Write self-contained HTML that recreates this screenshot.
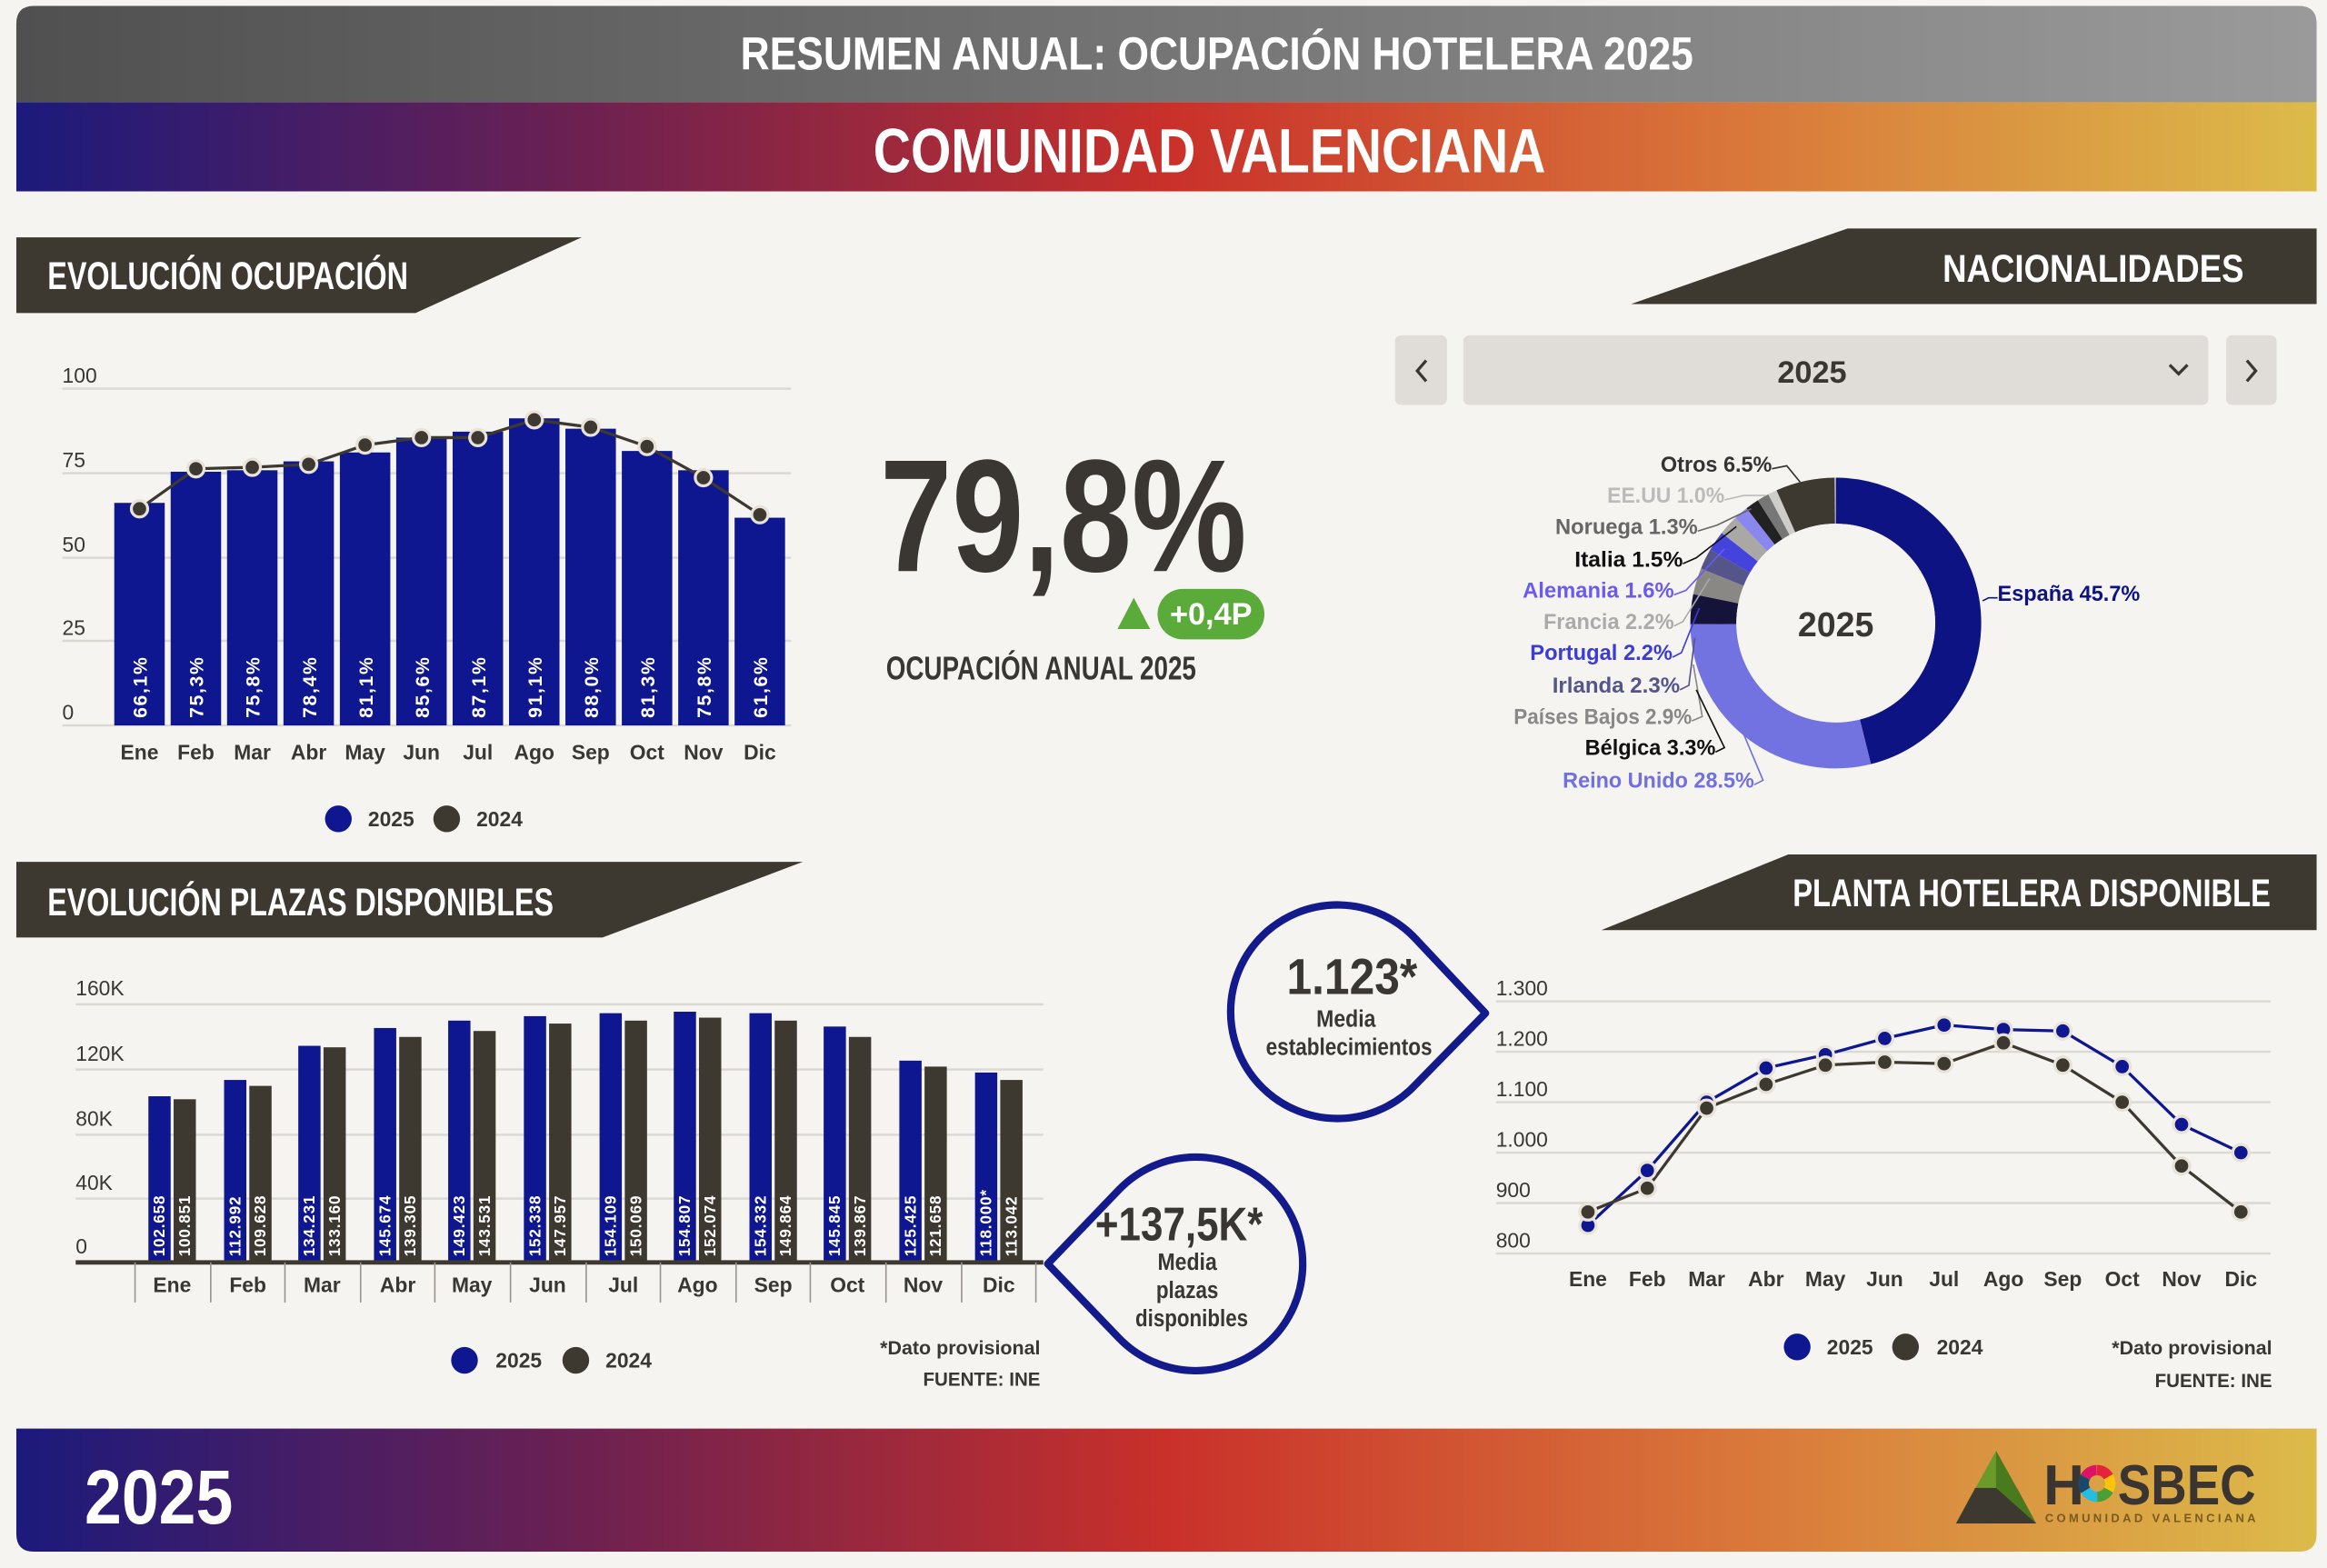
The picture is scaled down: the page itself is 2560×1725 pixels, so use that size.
<!DOCTYPE html>
<html><head><meta charset="utf-8">
<style>
html,body{margin:0;padding:0;background:#f6f4f0;}
svg{display:block;}
text{font-family:"Liberation Sans Narrow","Liberation Sans",sans-serif;font-weight:bold;}
</style></head>
<body>
<svg width="2560" height="1725" viewBox="0 0 1568 1057" preserveAspectRatio="none" xmlns="http://www.w3.org/2000/svg">
<defs>
<linearGradient id="gray" x1="0" x2="1" y1="0" y2="0"><stop offset="0" stop-color="#505050"/><stop offset="1" stop-color="#9a9a9a"/></linearGradient>
<linearGradient id="warm" x1="0" x2="1" y1="0" y2="0"><stop offset="0" stop-color="#1c1a7c"/><stop offset="0.25" stop-color="#6e2150"/><stop offset="0.5" stop-color="#c9302a"/><stop offset="0.75" stop-color="#d9773a"/><stop offset="1" stop-color="#dcbb4a"/></linearGradient>
</defs>
<rect width="1568" height="1057" fill="#f6f4f0"/>
<!-- header -->
<path d="M11,69 V16 Q11,4 23,4 H1549 Q1561,4 1561,16 V69 Z" fill="url(#gray)"/>
<text x="820" y="47" font-size="31" fill="#fff" text-anchor="middle" textLength="642" lengthAdjust="spacingAndGlyphs">RESUMEN ANUAL: OCUPACIÓN HOTELERA 2025</text>
<rect x="11" y="69" width="1550" height="60" fill="url(#warm)"/>
<text x="815" y="116" font-size="42" fill="#fff" text-anchor="middle" textLength="453" lengthAdjust="spacingAndGlyphs">COMUNIDAD VALENCIANA</text>

<!-- section headers -->
<polygon points="11,160 392,160 280,211 11,211" fill="#3d3830"/>
<text x="32" y="195" font-size="26" fill="#fff" textLength="243" lengthAdjust="spacingAndGlyphs">EVOLUCIÓN OCUPACIÓN</text>
<polygon points="1245,154 1561,154 1561,205 1099,205" fill="#3d3830"/>
<text x="1309" y="190" font-size="26" fill="#fff" textLength="203" lengthAdjust="spacingAndGlyphs">NACIONALIDADES</text>
<polygon points="11,581 541,581 406,632 11,632" fill="#3d3830"/>
<text x="32" y="617" font-size="26" fill="#fff" textLength="341" lengthAdjust="spacingAndGlyphs">EVOLUCIÓN PLAZAS DISPONIBLES</text>
<polygon points="1205,576 1561,576 1561,627 1079,627" fill="#3d3830"/>
<text x="1530" y="611" font-size="26" fill="#fff" text-anchor="end" textLength="322" lengthAdjust="spacingAndGlyphs">PLANTA HOTELERA DISPONIBLE</text>

<!-- chart 1 -->
<g stroke="#dcd8d2" stroke-width="1.5">
<line x1="42" x2="533" y1="262" y2="262"/><line x1="42" x2="533" y1="319" y2="319"/><line x1="42" x2="533" y1="376" y2="376"/><line x1="42" x2="533" y1="432" y2="432"/><line x1="42" x2="533" y1="489" y2="489"/>
</g>
<g font-size="14" fill="#3a3733">
<text x="42" y="258" style="font-weight:normal">100</text><text x="42" y="315" style="font-weight:normal">75</text><text x="42" y="372" style="font-weight:normal">50</text><text x="42" y="428" style="font-weight:normal">25</text><text x="42" y="485" style="font-weight:normal">0</text>
</g>
<g fill="#0e1790">
<rect x="77" y="339" width="34" height="150"/><rect x="115" y="318" width="34" height="171"/><rect x="153" y="317" width="34" height="172"/><rect x="191" y="311" width="34" height="178"/><rect x="229" y="305" width="34" height="184"/><rect x="267" y="295" width="34" height="194"/><rect x="305" y="291" width="34" height="198"/><rect x="343" y="282" width="34" height="207"/><rect x="381" y="289" width="34" height="200"/><rect x="419" y="304" width="34" height="185"/><rect x="457" y="317" width="34" height="172"/><rect x="495" y="349" width="34" height="140"/>
</g>
<g fill="#fff" font-size="13" letter-spacing="1">
<text transform="translate(99,484) rotate(-90)">66,1%</text><text transform="translate(137,484) rotate(-90)">75,3%</text><text transform="translate(175,484) rotate(-90)">75,8%</text><text transform="translate(213,484) rotate(-90)">78,4%</text><text transform="translate(251,484) rotate(-90)">81,1%</text><text transform="translate(289,484) rotate(-90)">85,6%</text><text transform="translate(327,484) rotate(-90)">87,1%</text><text transform="translate(365,484) rotate(-90)">91,1%</text><text transform="translate(403,484) rotate(-90)">88,0%</text><text transform="translate(441,484) rotate(-90)">81,3%</text><text transform="translate(479,484) rotate(-90)">75,8%</text><text transform="translate(517,484) rotate(-90)">61,6%</text>
</g>
<polyline points="94,343 132,316 170,315 208,313 246,300 284,295 322,295 360,283 398,288 436,301 474,322 512,347" fill="none" stroke="#3d3830" stroke-width="2"/>
<g fill="#3d3830" stroke="#e8e2d8" stroke-width="2">
<circle cx="94" cy="343" r="5.5"/><circle cx="132" cy="316" r="5.5"/><circle cx="170" cy="315" r="5.5"/><circle cx="208" cy="313" r="5.5"/><circle cx="246" cy="300" r="5.5"/><circle cx="284" cy="295" r="5.5"/><circle cx="322" cy="295" r="5.5"/><circle cx="360" cy="283" r="5.5"/><circle cx="398" cy="288" r="5.5"/><circle cx="436" cy="301" r="5.5"/><circle cx="474" cy="322" r="5.5"/><circle cx="512" cy="347" r="5.5"/>
</g>
<g font-size="14" fill="#3a3733" text-anchor="middle">
<text x="94" y="512">Ene</text><text x="132" y="512">Feb</text><text x="170" y="512">Mar</text><text x="208" y="512">Abr</text><text x="246" y="512">May</text><text x="284" y="512">Jun</text><text x="322" y="512">Jul</text><text x="360" y="512">Ago</text><text x="398" y="512">Sep</text><text x="436" y="512">Oct</text><text x="474" y="512">Nov</text><text x="512" y="512">Dic</text>
</g>
<circle cx="228" cy="552" r="9" fill="#0e1790"/><text x="248" y="557" font-size="14" fill="#3a3733">2025</text>
<circle cx="301" cy="552" r="9" fill="#3d3830"/><text x="321" y="557" font-size="14" fill="#3a3733">2024</text>

<!-- KPI -->
<text x="593" y="385" font-size="108" fill="#3a3733" textLength="247" lengthAdjust="spacingAndGlyphs">79,8%</text>
<polygon points="753,424 764,403 775,424" fill="#5aab3a"/>
<rect x="780" y="397" width="72" height="34" rx="17" fill="#5aab3a"/>
<text x="816" y="421" font-size="21" fill="#fff" text-anchor="middle">+0,4P</text>
<text x="597" y="458" font-size="22" fill="#3a3733" textLength="209" lengthAdjust="spacingAndGlyphs">OCUPACIÓN ANUAL 2025</text>

<!-- dropdown -->
<rect x="940" y="226" width="35" height="47" rx="4" fill="#e0ddd9"/>
<rect x="986" y="226" width="502" height="47" rx="4" fill="#e0ddd9"/>
<rect x="1500" y="226" width="34" height="47" rx="4" fill="#e0ddd9"/>
<polyline points="961,243 955,250 961,257" fill="none" stroke="#3a3733" stroke-width="2"/>
<polyline points="1514,243 1520,250 1514,257" fill="none" stroke="#3a3733" stroke-width="2"/>
<polyline points="1462,246 1468,252 1474,246" fill="none" stroke="#3a3733" stroke-width="2"/>
<text x="1221" y="258" font-size="21" fill="#3a3733" text-anchor="middle">2025</text>

<!-- donut -->
<g transform="rotate(-90 1237 420)" fill="none" stroke-width="31">
<circle cx="1237" cy="420" r="82.5" pathLength="99" stroke="#0e1384" stroke-dasharray="45.7 99" stroke-dashoffset="0"/>
<circle cx="1237" cy="420" r="82.5" pathLength="99" stroke="#7272e0" stroke-dasharray="28.5 99" stroke-dashoffset="-45.7"/>
<circle cx="1237" cy="420" r="82.5" pathLength="99" stroke="#15133a" stroke-dasharray="3.3 99" stroke-dashoffset="-74.2"/>
<circle cx="1237" cy="420" r="82.5" pathLength="99" stroke="#8a8885" stroke-dasharray="2.9 99" stroke-dashoffset="-77.5"/>
<circle cx="1237" cy="420" r="82.5" pathLength="99" stroke="#55558a" stroke-dasharray="2.3 99" stroke-dashoffset="-80.4"/>
<circle cx="1237" cy="420" r="82.5" pathLength="99" stroke="#4444dd" stroke-dasharray="2.2 99" stroke-dashoffset="-82.7"/>
<circle cx="1237" cy="420" r="82.5" pathLength="99" stroke="#aaa8a5" stroke-dasharray="2.2 99" stroke-dashoffset="-84.9"/>
<circle cx="1237" cy="420" r="82.5" pathLength="99" stroke="#8a88ee" stroke-dasharray="1.6 99" stroke-dashoffset="-87.1"/>
<circle cx="1237" cy="420" r="82.5" pathLength="99" stroke="#222" stroke-dasharray="1.5 99" stroke-dashoffset="-88.7"/>
<circle cx="1237" cy="420" r="82.5" pathLength="99" stroke="#777" stroke-dasharray="1.3 99" stroke-dashoffset="-90.2"/>
<circle cx="1237" cy="420" r="82.5" pathLength="99" stroke="#cfcdca" stroke-dasharray="1.0 99" stroke-dashoffset="-91.5"/>
<circle cx="1237" cy="420" r="82.5" pathLength="99" stroke="#3d3830" stroke-dasharray="6.5 99" stroke-dashoffset="-92.5"/>
</g>
<circle cx="1237" cy="420" r="67" fill="#f6f4f0"/>
<text x="1237" y="429" font-size="23" fill="#3a3733" text-anchor="middle">2025</text>
<g fill="none" stroke-width="1">
<polyline points="1194,316 1204,314 1213,325" stroke="#333"/>
<polyline points="1162,337 1175,334 1190,334" stroke="#bbb"/>
<polyline points="1144,358 1157,354 1180,343" stroke="#666"/>
<polyline points="1134,380 1143,376 1170,355" stroke="#111"/>
<polyline points="1128,401 1136,398 1162,370" stroke="#6a5af0"/>
<polyline points="1128,422 1134,419 1152,390" stroke="#aaa"/>
<polyline points="1127,443 1133,440 1145,410" stroke="#3b3bd6"/>
<polyline points="1132,465 1138,462 1142,430" stroke="#55558a"/>
<polyline points="1140,486 1147,483 1141,448" stroke="#888"/>
<polyline points="1156,507 1162,504 1143,465" stroke="#111"/>
<polyline points="1182,529 1188,526 1175,495" stroke="#7070e0"/>
<polyline points="1346,403 1340,403 1336,405" stroke="#0e1384"/>
</g>
<g font-size="15" text-anchor="end" lengthAdjust="spacingAndGlyphs">
<text x="1194" y="318" fill="#333" textLength="75" lengthAdjust="spacingAndGlyphs">Otros 6.5%</text>
<text x="1162" y="339" fill="#bbb" textLength="79" lengthAdjust="spacingAndGlyphs">EE.UU 1.0%</text>
<text x="1144" y="360" fill="#666" textLength="96" lengthAdjust="spacingAndGlyphs">Noruega 1.3%</text>
<text x="1134" y="382" fill="#111" textLength="73" lengthAdjust="spacingAndGlyphs">Italia 1.5%</text>
<text x="1128" y="403" fill="#6a5af0" textLength="102" lengthAdjust="spacingAndGlyphs">Alemania 1.6%</text>
<text x="1128" y="424" fill="#aaa" textLength="88" lengthAdjust="spacingAndGlyphs">Francia 2.2%</text>
<text x="1127" y="445" fill="#3b3bd6" textLength="96" lengthAdjust="spacingAndGlyphs">Portugal 2.2%</text>
<text x="1132" y="467" fill="#55558a" textLength="86" lengthAdjust="spacingAndGlyphs">Irlanda 2.3%</text>
<text x="1140" y="488" fill="#888" textLength="120" lengthAdjust="spacingAndGlyphs">Países Bajos 2.9%</text>
<text x="1156" y="509" fill="#111" textLength="88" lengthAdjust="spacingAndGlyphs">Bélgica 3.3%</text>
<text x="1182" y="531" fill="#7070e0" textLength="129" lengthAdjust="spacingAndGlyphs">Reino Unido 28.5%</text>
</g>
<text x="1346" y="405" font-size="15" fill="#0e1384" textLength="96" lengthAdjust="spacingAndGlyphs">España 45.7%</text>

<!-- chart 2 -->
<g stroke="#dcd8d2" stroke-width="1.5">
<line x1="51" x2="703" y1="677" y2="677"/><line x1="51" x2="703" y1="721" y2="721"/><line x1="51" x2="703" y1="765" y2="765"/><line x1="51" x2="703" y1="808" y2="808"/>
</g>
<g font-size="14" fill="#3a3733">
<text x="51" y="671" style="font-weight:normal">160K</text><text x="51" y="715" style="font-weight:normal">120K</text><text x="51" y="759" style="font-weight:normal">80K</text><text x="51" y="802" style="font-weight:normal">40K</text><text x="51" y="845" style="font-weight:normal">0</text>
</g>
<g fill="#0e1790">
<rect x="100" y="739" width="15" height="112"/><rect x="151" y="728" width="15" height="123"/><rect x="201" y="705" width="15" height="146"/><rect x="252" y="693" width="15" height="158"/><rect x="302" y="688" width="15" height="163"/><rect x="353" y="685" width="15" height="166"/><rect x="404" y="683" width="15" height="168"/><rect x="454" y="682" width="15" height="169"/><rect x="505" y="683" width="15" height="168"/><rect x="555" y="692" width="15" height="159"/><rect x="606" y="715" width="15" height="136"/><rect x="657" y="723" width="15" height="128"/>
</g>
<g fill="#3d3830">
<rect x="117" y="741" width="15" height="110"/><rect x="168" y="732" width="15" height="119"/><rect x="218" y="706" width="15" height="145"/><rect x="269" y="699" width="15" height="152"/><rect x="319" y="695" width="15" height="156"/><rect x="370" y="690" width="15" height="161"/><rect x="421" y="688" width="15" height="163"/><rect x="471" y="686" width="15" height="165"/><rect x="522" y="688" width="15" height="163"/><rect x="572" y="699" width="15" height="152"/><rect x="623" y="719" width="15" height="132"/><rect x="674" y="728" width="15" height="123"/>
</g>
<g fill="#fff" font-size="10.5" letter-spacing="0.5">
<text transform="translate(111,847) rotate(-90)">102.658</text><text transform="translate(128,847) rotate(-90)">100.851</text>
<text transform="translate(162,847) rotate(-90)">112.992</text><text transform="translate(179,847) rotate(-90)">109.628</text>
<text transform="translate(212,847) rotate(-90)">134.231</text><text transform="translate(229,847) rotate(-90)">133.160</text>
<text transform="translate(263,847) rotate(-90)">145.674</text><text transform="translate(280,847) rotate(-90)">139.305</text>
<text transform="translate(313,847) rotate(-90)">149.423</text><text transform="translate(330,847) rotate(-90)">143.531</text>
<text transform="translate(364,847) rotate(-90)">152.338</text><text transform="translate(381,847) rotate(-90)">147.957</text>
<text transform="translate(415,847) rotate(-90)">154.109</text><text transform="translate(432,847) rotate(-90)">150.069</text>
<text transform="translate(465,847) rotate(-90)">154.807</text><text transform="translate(482,847) rotate(-90)">152.074</text>
<text transform="translate(516,847) rotate(-90)">154.332</text><text transform="translate(533,847) rotate(-90)">149.864</text>
<text transform="translate(566,847) rotate(-90)">145.845</text><text transform="translate(583,847) rotate(-90)">139.867</text>
<text transform="translate(617,847) rotate(-90)">125.425</text><text transform="translate(634,847) rotate(-90)">121.658</text>
<text transform="translate(668,847) rotate(-90)">118.000*</text><text transform="translate(685,847) rotate(-90)">113.042</text>
</g>
<line x1="51" x2="703" y1="851" y2="851" stroke="#3d3830" stroke-width="3"/>
<g stroke="#9a9590" stroke-width="1">
<line x1="91" x2="91" y1="851" y2="878"/><line x1="142" x2="142" y1="851" y2="878"/><line x1="192" x2="192" y1="851" y2="878"/><line x1="243" x2="243" y1="851" y2="878"/><line x1="293" x2="293" y1="851" y2="878"/><line x1="344" x2="344" y1="851" y2="878"/><line x1="395" x2="395" y1="851" y2="878"/><line x1="445" x2="445" y1="851" y2="878"/><line x1="496" x2="496" y1="851" y2="878"/><line x1="546" x2="546" y1="851" y2="878"/><line x1="597" x2="597" y1="851" y2="878"/><line x1="648" x2="648" y1="851" y2="878"/><line x1="698" x2="698" y1="851" y2="878"/>
</g>
<g font-size="14" fill="#3a3733" text-anchor="middle">
<text x="116" y="871">Ene</text><text x="167" y="871">Feb</text><text x="217" y="871">Mar</text><text x="268" y="871">Abr</text><text x="318" y="871">May</text><text x="369" y="871">Jun</text><text x="420" y="871">Jul</text><text x="470" y="871">Ago</text><text x="521" y="871">Sep</text><text x="571" y="871">Oct</text><text x="622" y="871">Nov</text><text x="673" y="871">Dic</text>
</g>
<circle cx="313" cy="917" r="9" fill="#0e1790"/><text x="334" y="922" font-size="14" fill="#3a3733">2025</text>
<circle cx="388" cy="917" r="9" fill="#3d3830"/><text x="408" y="922" font-size="14" fill="#3a3733">2024</text>
<text x="701" y="913" font-size="13" fill="#3a3733" text-anchor="end" textLength="108" lengthAdjust="spacingAndGlyphs">*Dato provisional</text>
<text x="701" y="934" font-size="13" fill="#3a3733" text-anchor="end" textLength="79" lengthAdjust="spacingAndGlyphs">FUENTE: INE</text>

<!-- teardrops -->
<path d="M1001,683 L954,633 A72,72 0 1,0 954,731 Z" fill="none" stroke="#121a8c" stroke-width="5" stroke-linejoin="round"/>
<text x="867" y="670" font-size="34" fill="#3a3733" textLength="88" lengthAdjust="spacingAndGlyphs">1.123*</text>
<text x="907" y="692" font-size="16" fill="#3a3733" text-anchor="middle" textLength="40" lengthAdjust="spacingAndGlyphs">Media</text>
<text x="853" y="711" font-size="16" fill="#3a3733" textLength="112" lengthAdjust="spacingAndGlyphs">establecimientos</text>
<path d="M706,852 L754,802 A72,72 0 1,1 754,902 Z" fill="none" stroke="#121a8c" stroke-width="5" stroke-linejoin="round"/>
<text x="738" y="836" font-size="32" fill="#3a3733" textLength="113" lengthAdjust="spacingAndGlyphs">+137,5K*</text>
<text x="800" y="856" font-size="16" fill="#3a3733" text-anchor="middle" textLength="40" lengthAdjust="spacingAndGlyphs">Media</text>
<text x="800" y="875" font-size="16" fill="#3a3733" text-anchor="middle" textLength="42" lengthAdjust="spacingAndGlyphs">plazas</text>
<text x="765" y="894" font-size="16" fill="#3a3733" textLength="76" lengthAdjust="spacingAndGlyphs">disponibles</text>

<!-- chart 3 -->
<g stroke="#dcd8d2" stroke-width="1.5">
<line x1="1008" x2="1530" y1="675" y2="675"/><line x1="1008" x2="1530" y1="709" y2="709"/><line x1="1008" x2="1530" y1="743" y2="743"/><line x1="1008" x2="1530" y1="777" y2="777"/><line x1="1008" x2="1530" y1="811" y2="811"/><line x1="1008" x2="1530" y1="845" y2="845"/>
</g>
<g font-size="14" fill="#3a3733">
<text x="1008" y="671" style="font-weight:normal">1.300</text><text x="1008" y="705" style="font-weight:normal">1.200</text><text x="1008" y="739" style="font-weight:normal">1.100</text><text x="1008" y="773" style="font-weight:normal">1.000</text><text x="1008" y="807" style="font-weight:normal">900</text><text x="1008" y="841" style="font-weight:normal">800</text>
</g>
<polyline points="1070,826 1110,789 1150,743 1190,720 1230,711 1270,700 1310,691 1350,694 1390,695 1430,719 1470,758 1510,777" fill="none" stroke="#0e1790" stroke-width="2"/>
<polyline points="1070,817 1110,801 1150,747 1190,731 1230,718 1270,716 1310,717 1350,703 1390,718 1430,743 1470,786 1510,817" fill="none" stroke="#3d3830" stroke-width="2"/>
<g fill="#0e1790" stroke="#e8e2d8" stroke-width="2">
<circle cx="1070" cy="826" r="5.5"/><circle cx="1110" cy="789" r="5.5"/><circle cx="1150" cy="743" r="5.5"/><circle cx="1190" cy="720" r="5.5"/><circle cx="1230" cy="711" r="5.5"/><circle cx="1270" cy="700" r="5.5"/><circle cx="1310" cy="691" r="5.5"/><circle cx="1350" cy="694" r="5.5"/><circle cx="1390" cy="695" r="5.5"/><circle cx="1430" cy="719" r="5.5"/><circle cx="1470" cy="758" r="5.5"/><circle cx="1510" cy="777" r="5.5"/>
</g>
<g fill="#3d3830" stroke="#e8e2d8" stroke-width="2">
<circle cx="1070" cy="817" r="5.5"/><circle cx="1110" cy="801" r="5.5"/><circle cx="1150" cy="747" r="5.5"/><circle cx="1190" cy="731" r="5.5"/><circle cx="1230" cy="718" r="5.5"/><circle cx="1270" cy="716" r="5.5"/><circle cx="1310" cy="717" r="5.5"/><circle cx="1350" cy="703" r="5.5"/><circle cx="1390" cy="718" r="5.5"/><circle cx="1430" cy="743" r="5.5"/><circle cx="1470" cy="786" r="5.5"/><circle cx="1510" cy="817" r="5.5"/>
</g>
<g font-size="14" fill="#3a3733" text-anchor="middle">
<text x="1070" y="867">Ene</text><text x="1110" y="867">Feb</text><text x="1150" y="867">Mar</text><text x="1190" y="867">Abr</text><text x="1230" y="867">May</text><text x="1270" y="867">Jun</text><text x="1310" y="867">Jul</text><text x="1350" y="867">Ago</text><text x="1390" y="867">Sep</text><text x="1430" y="867">Oct</text><text x="1470" y="867">Nov</text><text x="1510" y="867">Dic</text>
</g>
<circle cx="1211" cy="908" r="9" fill="#0e1790"/><text x="1231" y="913" font-size="14" fill="#3a3733">2025</text>
<circle cx="1284" cy="908" r="9" fill="#3d3830"/><text x="1305" y="913" font-size="14" fill="#3a3733">2024</text>
<text x="1531" y="913" font-size="13" fill="#3a3733" text-anchor="end" textLength="108" lengthAdjust="spacingAndGlyphs">*Dato provisional</text>
<text x="1531" y="935" font-size="13" fill="#3a3733" text-anchor="end" textLength="79" lengthAdjust="spacingAndGlyphs">FUENTE: INE</text>

<!-- footer -->
<path d="M11,963 H1561 V1034 Q1561,1046 1549,1046 H23 Q11,1046 11,1034 Z" fill="url(#warm)"/>
<text x="57" y="1027" font-size="52" fill="#fff" textLength="100" lengthAdjust="spacingAndGlyphs">2025</text>
<polygon points="1345,978 1318,1027 1372,1027" fill="#6a9a2a"/>
<polygon points="1331,1003 1318,1027 1372,1027 1359,1003" fill="#3d3830"/>
<polygon points="1345,978 1359,1003 1372,1027 1345,1003" fill="#4a7a1e"/>
<text x="1377" y="1014" font-size="38" fill="#3a3530">H</text>
<g transform="rotate(-90 1413 1000)" fill="none" stroke-width="7">
<circle cx="1413" cy="1000" r="9" pathLength="6" stroke="#e5243b" stroke-dasharray="1 6"/>
<circle cx="1413" cy="1000" r="9" pathLength="6" stroke="#fcc30b" stroke-dasharray="1 6" stroke-dashoffset="-1"/>
<circle cx="1413" cy="1000" r="9" pathLength="6" stroke="#4c9f38" stroke-dasharray="1 6" stroke-dashoffset="-2"/>
<circle cx="1413" cy="1000" r="9" pathLength="6" stroke="#26bde2" stroke-dasharray="1 6" stroke-dashoffset="-3"/>
<circle cx="1413" cy="1000" r="9" pathLength="6" stroke="#19486a" stroke-dasharray="1 6" stroke-dashoffset="-4"/>
<circle cx="1413" cy="1000" r="9" pathLength="6" stroke="#dd1367" stroke-dasharray="1 6" stroke-dashoffset="-5"/>
</g>
<text x="1427" y="1014" font-size="38" fill="#3a3530" textLength="93" lengthAdjust="spacingAndGlyphs">SBEC</text>
<text x="1378" y="1026" font-size="8" fill="#7a5a20" textLength="142" lengthAdjust="spacing">COMUNIDAD VALENCIANA</text>
</svg>
</body></html>
